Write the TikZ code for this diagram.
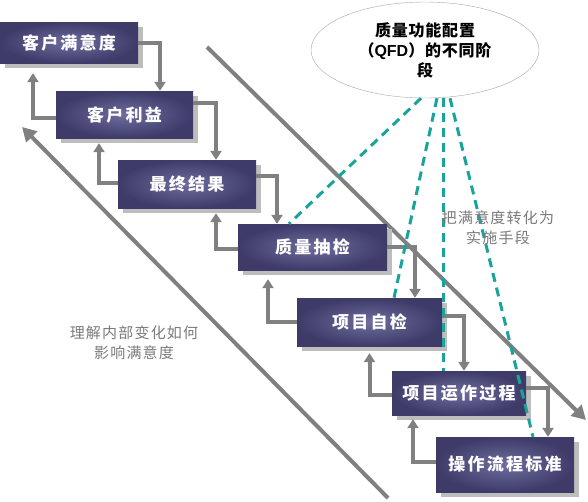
\documentclass[tikz,border=0pt]{standalone}
\usepackage{fontspec}
\newfontfamily\cjk{Noto Sans CJK SC}
\newfontfamily\latinb{Liberation Sans}
\usetikzlibrary{shadows,arrows.meta,shapes.geometric}
\definecolor{boxin}{HTML}{6E6D9E}
\definecolor{boxout}{HTML}{3E3B69}
\definecolor{shadowgray}{HTML}{BDBDBD}
\definecolor{arrowgray}{HTML}{808080}
\definecolor{dashteal}{HTML}{1AA39A}
\definecolor{notegray}{HTML}{7A7A7A}
\tikzset{
  stagebox/.style={shade, shading=radial, inner color=boxin, outer color=boxout,
    text=white, inner sep=0pt,
    font=\cjk\bfseries\fontsize{17}{19}\selectfont\addfontfeatures{LetterSpace=13},
    drop shadow={shadow xshift=5pt, shadow yshift=-5pt, fill=shadowgray, opacity=1}},
  flow/.style={draw=arrowgray, line width=4pt, -{Triangle[length=9pt,width=11pt]}},
  bigflow/.style={draw=arrowgray, line width=4pt, -{Triangle[length=14pt,width=15pt]}},
  qfdlink/.style={draw=dashteal, line width=3pt, dash pattern=on 9pt off 6pt},
  note/.style={text=notegray, align=center,
    font=\cjk\fontsize{15}{20}\selectfont\addfontfeatures{LetterSpace=8}},
}
\begin{document}
\begin{tikzpicture}[x=1pt,y=-1pt]
\useasboundingbox (0,0) rectangle (588,501);
% long diagonal arrows
\coordinate (rd1) at (207,47);
\coordinate (rd2) at (586,420);
\coordinate (ld1) at (388,498);
\coordinate (ld2) at (22,127);
\draw[bigflow] (rd1) -- (rd2);
\draw[bigflow] (ld1) -- (ld2);
% boxes
\node[stagebox, minimum width=138pt, minimum height=41pt] (b1) at (69,42.5) {客户满意度};
\node[stagebox, minimum width=137pt, minimum height=47pt] (b2) at (124.5,114.5) {客户利益};
\node[stagebox, minimum width=138pt, minimum height=48pt] (b3) at (187,184) {最终结果};
\node[stagebox, minimum width=149pt, minimum height=46pt] (b4) at (312.5,247) {质量抽检};
\node[stagebox, minimum width=145pt, minimum height=48pt] (b5) at (369.5,322) {项目自检};
\node[stagebox, minimum width=134pt, minimum height=44pt] (b6) at (459,393) {项目运作过程};
\node[stagebox, minimum width=138pt, minimum height=55pt] (b7) at (505,464.5) {操作流程标准};
% down arrows
\draw[flow] (b1.east) -| ([xshift=35.5pt]b2.north);
\draw[flow] ([yshift=11.5pt]b2.east) -| ([xshift=29pt]b3.north);
\draw[flow] ([yshift=8pt]b3.east) -| ([xshift=-35.5pt]b4.north);
\draw[flow] (b4.east) -| ([xshift=45.5pt]b5.north);
\draw[flow] ([yshift=6pt]b5.east) -| ([xshift=5pt]b6.north);
\draw[flow] ([yshift=5pt]b6.east) -| ([xshift=43pt]b7.north);
% up arrows
\draw[flow] ([yshift=-3.5pt]b2.west) -| ([xshift=-36pt,yshift=-10pt]b1.south);
\draw[flow] ([yshift=1pt]b3.west) -| ([xshift=-25.5pt,yshift=-5pt]b2.south);
\draw[flow] ([yshift=-2pt]b4.west) -| ([xshift=29pt,yshift=-5pt]b3.south);
\draw[flow] (b5.west) -| ([xshift=-44.5pt,yshift=-9pt]b4.south);
\draw[flow] ([yshift=-2pt]b6.west) -| ([yshift=-7pt]b5.south);
\draw[flow] ([yshift=2.5pt]b7.west) -| ([xshift=-46pt,yshift=-4pt]b6.south);
% QFD ellipse
\node[ellipse, draw=gray!70, fill=white, inner sep=0pt, minimum width=228pt, minimum height=96pt,
  align=center, font=\cjk\bfseries\fontsize{16}{20}\selectfont\addfontfeatures{LetterSpace=5}] (qfd) at (425,50)
  {质量功能配置\\（{\latinb\bfseries QFD}）的不同阶\\段};
% dashed links
\draw[qfdlink] ([xshift=-4pt]qfd.south) -- ([xshift=-23.5pt]b4.north);
\draw[qfdlink] ([xshift=12pt]qfd.south) -- ([xshift=24.5pt]b5.north);
\draw[qfdlink] ([xshift=18pt]qfd.south) -- ([xshift=-16pt]b6.north);
\draw[qfdlink] ([xshift=25pt]qfd.south) -- ([xshift=28pt]b7.north);
% notes
\node[note] (n1) at (498,228) {把满意度转化为\\实施手段};
\node[note] (n2) at (134,343) {理解内部变化如何\\影响满意度};
\end{tikzpicture}
\end{document}
